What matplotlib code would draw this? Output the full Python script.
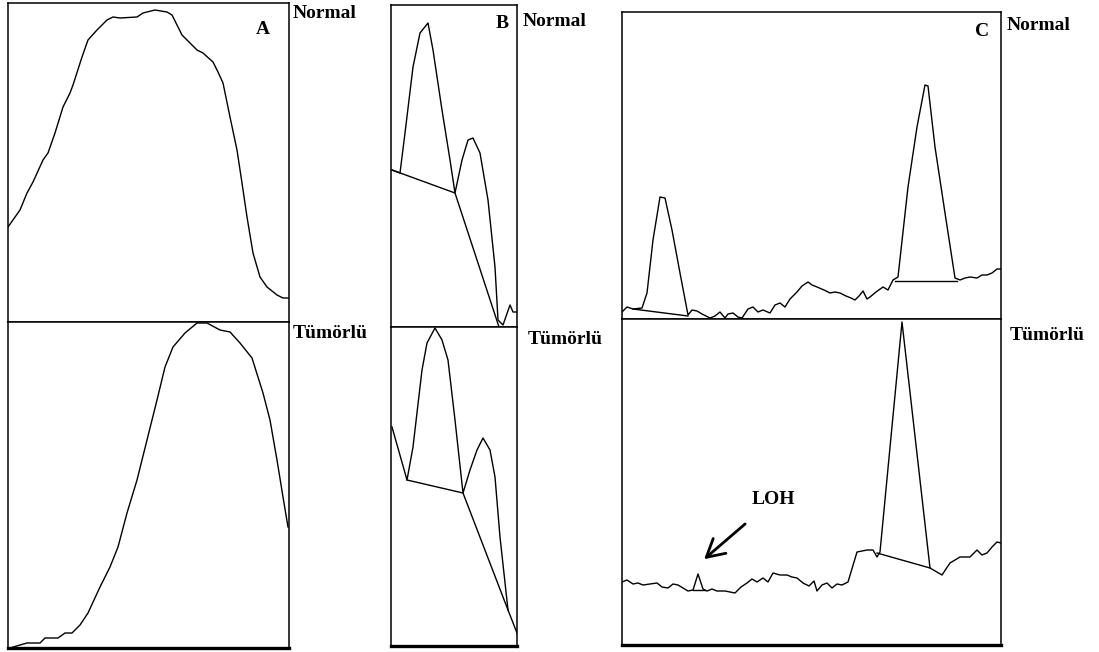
import matplotlib
matplotlib.use("Agg")
import matplotlib.pyplot as plt

W, H = 1099, 652

# densitometry scans, x = scan position, y = signal (arbitrary units)
a_norm_x = [0, 12, 19, 25, 35, 40, 47, 55, 62, 65, 74, 80, 89, 99, 105, 112, 129, 135, 147, 159,
            164, 169, 174, 179, 189, 195, 205, 210, 215, 222, 229, 234, 239, 245, 252, 259, 269, 275, 281]
a_norm_y = [95, 112, 129, 140, 162, 169, 189, 215, 229, 237, 265, 282, 292, 302, 305, 304, 305, 309, 312, 310,
            307, 297, 287, 282, 272, 269, 260, 250, 239, 205, 172, 139, 105, 69, 45, 35, 27, 24, 24]

a_tum_x = [2, 12, 19, 32, 37, 50, 57, 64, 72, 80, 92, 102, 110, 119, 129, 139, 149, 157, 165, 177,
           189, 199, 212, 222, 232, 244, 255, 262, 269, 275, 280]
a_tum_y = [0, 3, 5, 5, 10, 10, 15, 15, 23, 35, 61, 81, 101, 135, 168, 208, 248, 281, 301, 315,
           325, 325, 318, 316, 305, 290, 255, 228, 188, 151, 121]

b_norm_x = [1, 9, 14, 22, 29, 37, 42, 51, 59, 64, 71, 77, 82, 89, 97, 104, 107, 112, 119, 122, 126]
b_norm_y = [157, 154, 194, 260, 294, 304, 277, 217, 167, 134, 167, 187, 189, 174, 127, 60, 7, 2, 22, 15, 15]
b_norm_base_x = [1, 64, 108]
b_norm_base_y = [157, 134, 0]

b_tum_x = [1, 16, 22, 31, 36, 44, 51, 57, 64, 72, 79, 86, 92, 99, 104, 109, 117, 126]
b_tum_y = [219, 166, 199, 276, 303, 318, 306, 286, 226, 153, 176, 196, 208, 196, 169, 109, 36, 13]
b_tum_base_x = [16, 72, 117]
b_tum_base_y = [166, 153, 36]

c_norm_x = [0, 5, 11, 20, 25, 31, 38, 43, 50, 58, 66, 70, 75, 80, 88, 93, 98, 103, 106, 111, 116, 120,
            126, 131, 136, 141, 148, 153, 158, 163, 168, 175, 180, 186, 190, 195, 202, 208, 213, 218,
            224, 229, 233, 237, 241, 245, 248, 254, 261, 266, 271, 276, 286, 295, 303, 306, 313, 323,
            333, 338, 343, 348, 355, 360, 365, 370, 375, 379]
c_norm_y = [7, 12, 10, 11, 26, 79, 122, 121, 89, 46, 4, 9, 8, 5, 1, 3, 7, 1, 5, 6, 2, 1,
            10, 12, 7, 9, 6, 14, 16, 12, 20, 27, 33, 37, 34, 32, 29, 26, 27, 26,
            23, 21, 19, 23, 28, 20, 22, 27, 32, 29, 39, 42, 132, 192, 234, 233, 172, 106,
            41, 39, 41, 42, 41, 44, 44, 46, 50, 50]
c_norm_peak1_x = [11, 66]
c_norm_peak1_y = [10, 3]
c_norm_peak2_x = [273, 335]
c_norm_peak2_y = [38, 38]

c_tum_x = [0, 5, 11, 16, 21, 28, 35, 40, 46, 51, 56, 61, 66, 71, 76, 81, 85, 90, 95, 103, 113, 119,
           125, 130, 135, 141, 146, 151, 158, 165, 170, 175, 181, 187, 192, 195, 200, 205, 210, 215,
           220, 226, 235, 245, 251, 255, 258, 280, 308, 320, 328, 338, 348, 355, 360, 365, 370, 375, 379]
c_tum_y = [63, 65, 61, 62, 60, 61, 62, 58, 57, 61, 60, 57, 54, 55, 71, 56, 54, 56, 54, 54, 52, 58,
           62, 66, 63, 67, 63, 72, 70, 70, 68, 67, 62, 59, 64, 54, 60, 62, 57, 61,
           60, 63, 93, 95, 95, 88, 93, 323, 77, 70, 82, 88, 88, 95, 90, 92, 98, 103, 102]
c_tum_base_x = [255, 308]
c_tum_base_y = [92, 77]
c_tum_loh_x = [71, 83]
c_tum_loh_y = [55, 55]

fig = plt.figure(figsize=(W / 100, H / 100), dpi=100)


def make_ax(x0, x1, y0, y1, xr, yr, thick_bottom=False):
    ax = fig.add_axes([x0 / W, 1 - y1 / H, (x1 - x0) / W, (y1 - y0) / H])
    ax.set_xlim(0, xr)
    ax.set_ylim(0, yr)
    ax.set_xticks([])
    ax.set_yticks([])
    for s in ax.spines.values():
        s.set_linewidth(1.1)
    if thick_bottom:
        ax.spines['bottom'].set_linewidth(2.4)
    return ax


lk = dict(color='black', lw=1.0)

ax = make_ax(8, 289, 3, 322, 281, 319)
ax.plot(a_norm_x, a_norm_y, **lk)
ax = make_ax(8, 289, 322, 648, 281, 326, True)
ax.plot(a_tum_x, a_tum_y, **lk)

ax = make_ax(391, 517, 5, 327, 126, 322)
ax.plot(b_norm_x, b_norm_y, **lk)
ax.plot(b_norm_base_x, b_norm_base_y, **lk)
ax = make_ax(391, 517, 327, 646, 126, 319, True)
ax.plot(b_tum_x, b_tum_y, **lk)
ax.plot(b_tum_base_x, b_tum_base_y, **lk)

ax = make_ax(622, 1001, 12, 319, 379, 307)
ax.plot(c_norm_x, c_norm_y, **lk)
ax.plot(c_norm_peak1_x, c_norm_peak1_y, **lk)
ax.plot(c_norm_peak2_x, c_norm_peak2_y, **lk)
ax = make_ax(622, 1001, 319, 645, 379, 326, True)
ax.plot(c_tum_x, c_tum_y, **lk)
ax.plot(c_tum_base_x, c_tum_base_y, **lk)
ax.plot(c_tum_loh_x, c_tum_loh_y, **lk)
ax.annotate('LOH', xy=(80, 84), xytext=(151, 145), ha='center', va='center',
            fontsize=14, fontweight='bold', family='Liberation Serif',
            arrowprops=dict(arrowstyle='->,head_length=0.9,head_width=0.5', lw=2.0,
                            color='black', shrinkA=14))

tk = dict(fontsize=14, fontweight='bold', family='Liberation Serif', va='center')
labels = [(293, 13, 'Normal'), (293, 334, 'Tümörlü'),
          (523, 21, 'Normal'), (528, 340, 'Tümörlü'),
          (1007, 26, 'Normal'), (1010, 335, 'Tümörlü')]
for x, y, s in labels:
    fig.text(x / W, 1 - y / H, s, ha='left', **tk)
for x, y, s in [(263, 30, 'A'), (502, 24, 'B'), (982, 32, 'C')]:
    fig.text(x / W, 1 - y / H, s, ha='center', **tk)

fig.savefig('out.png', dpi=100)
